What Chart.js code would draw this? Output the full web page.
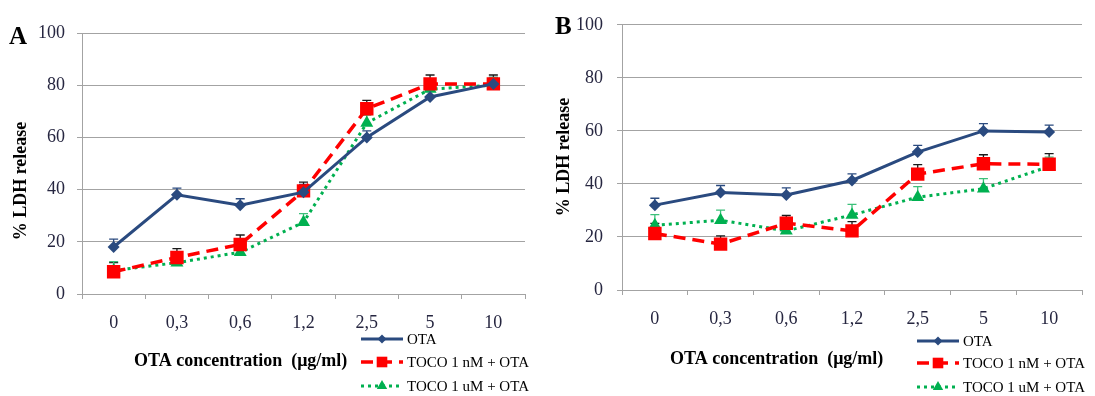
<!DOCTYPE html>
<html>
<head>
<meta charset="utf-8">
<script src="https://cdn.jsdelivr.net/npm/chart.js@4.4.1/dist/chart.umd.min.js"></script>
<style>
  html, body { margin: 0; padding: 0; background: #fff; }
  #wrap { position: relative; width: 1095px; height: 396px; overflow: hidden; }
  canvas { position: absolute; top: 0; }
  #cA { left: 0; }
  #cB { left: 548px; }
</style>
</head>
<body>
<div id="wrap">
  <canvas id="cA" width="548" height="396"></canvas>
  <canvas id="cB" width="547" height="396"></canvas>
</div>
<script>
// OTA concentrations (µg/ml)
const categories = ['0', '0,3', '0,6', '1,2', '2,5', '5', '10'];
const yTicks = [0, 20, 40, 60, 80, 100];
const seriesNames = ['OTA', 'TOCO 1 nM + OTA', 'TOCO 1 uM + OTA'];

// Panel A: % LDH release
const otaA = [18, 38, 34, 39, 60, 75.5, 80.5];
const nmA  = [8.5, 14, 19, 39.5, 71, 80.5, 80.5];
const umA  = [9, 12, 16, 27.5, 65.5, 78.5, 80];
const otaAErr = [3, 2.6, 2.5, 3, 2.5, 2.5, 2.5];
const nmAErr  = [3.5, 3.4, 3.6, 3.4, 3.2, 3.4, 3.4];
const umAErr  = [3.4, 3, 3, 3.3, 3, 3, 3];

// Panel B: % LDH release
const otaB = [32, 36.8, 35.8, 41.3, 52, 60, 59.6];
const nmB  = [21.3, 17.3, 25.2, 22.3, 43.7, 47.6, 47.4];
const umB  = [24.4, 26.3, 22.3, 28.3, 35, 38.2, 46.6];
const otaBErr = [2.6, 2.6, 2.7, 2.5, 2.5, 2.7, 2.6];
const nmBErr  = [3.8, 3.1, 2.9, 3.5, 3.6, 3.4, 4];
const umBErr  = [4, 3.8, 3.5, 4, 4, 3.8, 3.5];

const NAVY = '#2a4a7f';
const RED = '#ff0000';
const GREEN = '#00b050';
const GRID = '#a3a3a3';
const TICK_COLOR = '#262640';
const SERIF = '"Liberation Serif", "Times New Roman", serif';

function marker(ctx, style, x, y, r, color) {
  ctx.save();
  ctx.fillStyle = color;
  ctx.beginPath();
  if (style === 'rectRot') {
    ctx.moveTo(x - r, y); ctx.lineTo(x, y - r); ctx.lineTo(x + r, y); ctx.lineTo(x, y + r);
  } else if (style === 'rect') {
    const s = Math.SQRT1_2 * r;
    ctx.rect(x - s, y - s, 2 * s, 2 * s);
  } else {
    ctx.moveTo(x, y - r);
    ctx.lineTo(x + r * Math.sin(2 * Math.PI / 3), y + r / 2);
    ctx.lineTo(x - r * Math.sin(2 * Math.PI / 3), y + r / 2);
  }
  ctx.closePath();
  ctx.fill();
  ctx.restore();
}

// Upper error bars, drawn behind the markers
const errorBars = {
  id: 'errorBars',
  beforeDatasetsDraw(chart) {
    const ctx = chart.ctx;
    const ys = chart.scales.y;
    chart.data.datasets.forEach((ds, di) => {
      const meta = chart.getDatasetMeta(di);
      ctx.save();
      ctx.strokeStyle = ds.errColor;
      ctx.lineWidth = 1.3;
      meta.data.forEach((pt, i) => {
        const top = ys.getPixelForValue(ds.data[i] + ds.err[i]);
        ctx.beginPath();
        ctx.moveTo(pt.x, pt.y);
        ctx.lineTo(pt.x, top);
        ctx.moveTo(pt.x - 4.5, top);
        ctx.lineTo(pt.x + 4.5, top);
        ctx.stroke();
      });
      ctx.restore();
    });
  }
};

// Panel letter, axis titles and legend
const annotations = {
  id: 'annotations',
  afterDraw(chart) {
    const o = chart.options.plugins.annotations;
    const ctx = chart.ctx;
    ctx.save();
    ctx.fillStyle = '#000';
    ctx.font = 'bold 25px ' + SERIF;
    ctx.textBaseline = 'alphabetic';
    ctx.textAlign = 'left';
    ctx.fillText(o.letter, o.letterX, o.letterY);

    ctx.font = 'bold 18px ' + SERIF;
    ctx.save();
    ctx.translate(o.yTitleX, o.yTitleY);
    ctx.rotate(-Math.PI / 2);
    ctx.textAlign = 'center';
    ctx.textBaseline = 'middle';
    ctx.fillText('% LDH release', 0, 0);
    ctx.restore();

    ctx.textAlign = 'left';
    ctx.textBaseline = 'middle';
    ctx.fillText('OTA concentration  (\u03bcg/ml)', o.xTitleX, o.xTitleY);

    const ds = chart.data.datasets;
    ctx.font = '15px ' + SERIF;
    o.legendRows.forEach((ry, i) => {
      const d = ds[i];
      const x0 = o.legendX, x1 = o.legendX + 42;
      ctx.save();
      ctx.strokeStyle = d.borderColor;
      ctx.lineWidth = d.borderWidth;
      ctx.setLineDash(d.borderDash || []);
      ctx.beginPath();
      ctx.moveTo(x0, ry);
      ctx.lineTo(x1, ry);
      ctx.stroke();
      ctx.restore();
      marker(ctx, d.pointStyle, (x0 + x1) / 2, ry, d.legendRadius, d.backgroundColor);
      ctx.fillStyle = '#000';
      ctx.fillText(d.label, x1 + 4, ry + 1);
    });
    ctx.restore();
  }
};

function makeChart(id, vals, errs, box, ann) {
  const canvas = document.getElementById(id);
  const H = canvas.height;
  const datasets = [
    { label: seriesNames[0], data: vals[0], err: errs[0], errColor: NAVY,
      borderColor: NAVY, backgroundColor: NAVY, borderWidth: 3,
      pointStyle: 'rectRot', pointRadius: 6, legendRadius: 4.5 },
    { label: seriesNames[1], data: vals[1], err: errs[1], errColor: '#1a1a1a',
      borderColor: RED, backgroundColor: RED, borderWidth: 3.5, borderDash: [12, 7],
      pointStyle: 'rect', pointRadius: 9.5, legendRadius: 7.5 },
    { label: seriesNames[2], data: vals[2], err: errs[2], errColor: '#3cc07a',
      borderColor: GREEN, backgroundColor: GREEN, borderWidth: 3, borderDash: [3, 4],
      pointStyle: 'triangle', pointRadius: 7.5, legendRadius: 6 }
  ].map(d => Object.assign(d, {
    pointBorderWidth: 0, pointHoverRadius: d.pointRadius, tension: 0, fill: false
  }));

  return new Chart(canvas, {
    type: 'line',
    data: { labels: categories, datasets },
    plugins: [errorBars, annotations],
    options: {
      responsive: false,
      animation: false,
      events: [],
      layout: { padding: { left: 0, top: box.top, right: canvas.width - box.right, bottom: 0 } },
      plugins: {
        legend: { display: false },
        tooltip: { enabled: false },
        annotations: ann
      },
      scales: {
        x: {
          type: 'category',
          offset: true,
          afterFit(s) { s.height = H - box.bottom; },
          grid: { offset: true, drawOnChartArea: false, drawTicks: true, tickLength: 5, color: GRID, lineWidth: 1 },
          border: { display: true, color: GRID, width: 1 },
          ticks: { color: TICK_COLOR, font: { family: SERIF, size: 18 }, padding: box.xPad, maxRotation: 0 }
        },
        y: {
          min: 0, max: 100,
          afterFit(s) { s.width = box.left; },
          afterBuildTicks(s) { s.ticks = yTicks.map(v => ({ value: v })); },
          grid: { color: GRID, lineWidth: 1, tickLength: 5 },
          border: { display: true, color: GRID, width: 1 },
          ticks: { color: TICK_COLOR, font: { family: SERIF, size: 18 }, padding: box.yPad }
        }
      }
    }
  });
}

makeChart('cA', [otaA, nmA, umA], [otaAErr, nmAErr, umAErr],
  { left: 82, right: 525, top: 33, bottom: 294, xPad: 13, yPad: 12 },
  { letter: 'A', letterX: 9, letterY: 44, yTitleX: 21, yTitleY: 181,
    xTitleX: 134, xTitleY: 361, legendX: 361, legendRows: [339, 362, 386] });

makeChart('cB', [otaB, nmB, umB], [otaBErr, nmBErr, umBErr],
  { left: 74, right: 534, top: 24, bottom: 290, xPad: 13, yPad: 14 },
  { letter: 'B', letterX: 7, letterY: 34, yTitleX: 16, yTitleY: 157,
    xTitleX: 122, xTitleY: 359, legendX: 369, legendRows: [341, 363, 387] });
</script>
</body>
</html>
